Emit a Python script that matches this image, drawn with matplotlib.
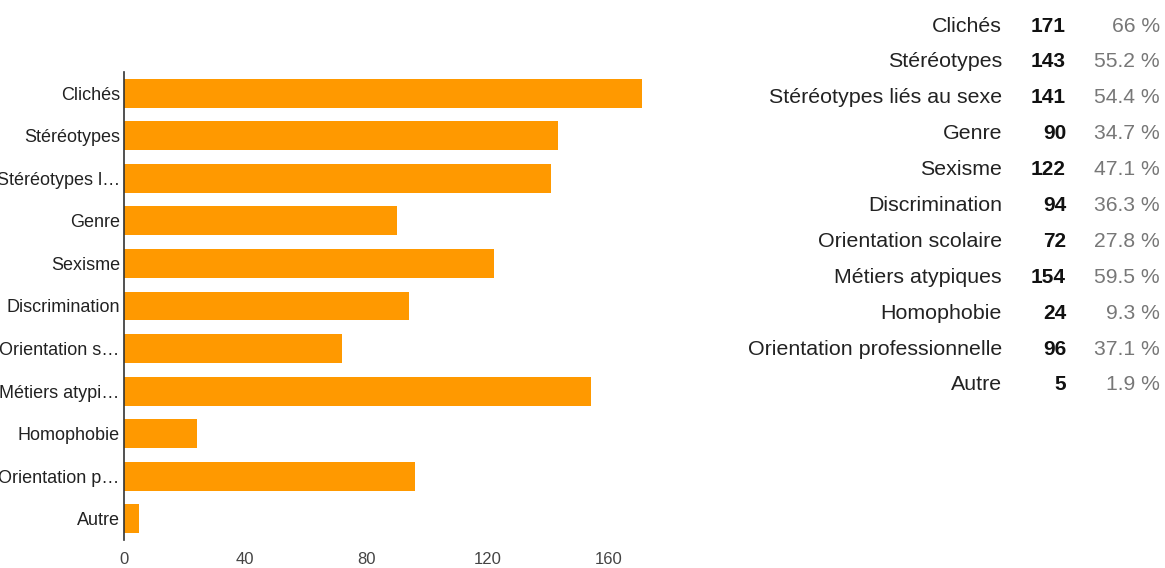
import matplotlib
matplotlib.use("Agg")
import matplotlib.pyplot as plt

categories = ["Clichés", "Stéréotypes", "Stéréotypes liés au sexe", "Genre", "Sexisme",
              "Discrimination", "Orientation scolaire", "Métiers atypiques", "Homophobie",
              "Orientation professionnelle", "Autre"]
axis_labels = ["Clichés", "Stéréotypes", "Stéréotypes l…", "Genre", "Sexisme",
               "Discrimination", "Orientation s…", "Métiers atypi…", "Homophobie",
               "Orientation p…", "Autre"]
counts = [171, 143, 141, 90, 122, 94, 72, 154, 24, 96, 5]
percents = ["66 %", "55.2 %", "54.4 %", "34.7 %", "47.1 %", "36.3 %", "27.8 %",
            "59.5 %", "9.3 %", "37.1 %", "1.9 %"]
xticks = [0, 40, 80, 120, 160]

W, H = 1165, 568
fig = plt.figure(figsize=(W / 100, H / 100), dpi=100)
plt.rcParams['font.family'] = ['Liberation Sans', 'DejaVu Sans']
fam = ['Liberation Sans', 'DejaVu Sans']

ax = fig.add_axes([124 / W, (H - 540) / H, (700 - 124) / W, 468 / H])
y = list(range(len(categories)))
ax.barh(y, counts, height=0.68, color="#FF9900")
ax.set_ylim(len(categories) - 0.5, -0.5)
ax.set_xlim(0, 190)
ax.set_yticks(y)
ax.set_yticklabels(axis_labels, fontsize=13, color="#222222", family=fam)
ax.set_xticks(xticks)
ax.set_xticklabels([str(t) for t in xticks], fontsize=12, color="#444444", family=fam)
ax.tick_params(axis='both', length=0)
ax.tick_params(axis='y', pad=3)
ax.tick_params(axis='x', pad=9)
for s in ["top", "right", "bottom"]:
    ax.spines[s].set_visible(False)
ax.spines["left"].set_color("#333333")
ax.spines["left"].set_linewidth(1.2)

row_y0, row_dy = 26, 35.9
for i, (c, n, p) in enumerate(zip(categories, counts, percents)):
    yy = 1 - (row_y0 + i * row_dy) / H
    fig.text(1002 / W, yy, c, ha="right", va="center", fontsize=15.4, color="#222222", family=fam)
    fig.text(1066 / W, yy, str(n), ha="right", va="center", fontsize=15, color="#111111",
             fontweight="bold", family=fam)
    fig.text(1160 / W, yy, p, ha="right", va="center", fontsize=15.2, color="#777777", family=fam)

fig.savefig("out.png", dpi=100)
